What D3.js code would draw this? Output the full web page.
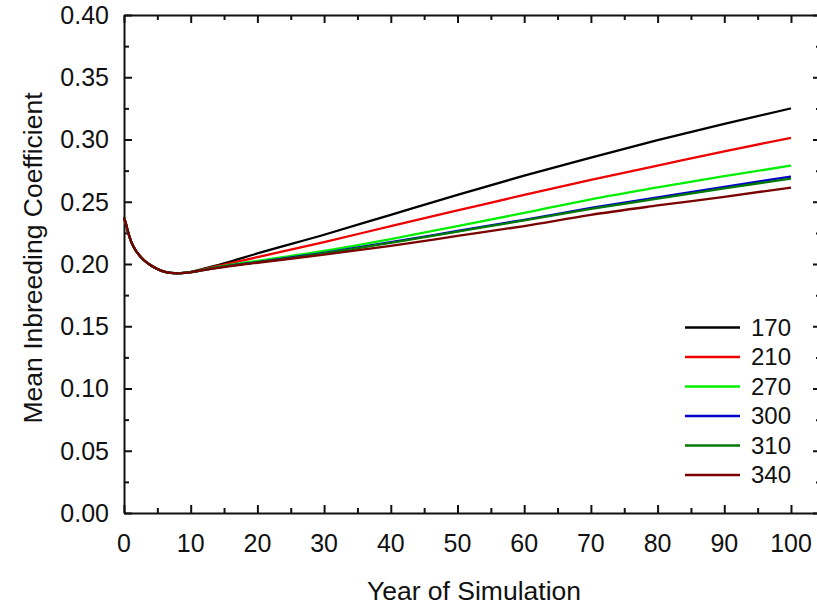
<!DOCTYPE html>
<html>
<head>
<meta charset="utf-8">
<script src="https://cdnjs.cloudflare.com/ajax/libs/d3/7.8.5/d3.min.js"></script>
<style>
  body { margin: 0; background: #fff; }
  svg { display: block; font-family: "Liberation Sans", Arial, sans-serif; }
</style>
</head>
<body>
<svg id="chart" width="817" height="609"></svg>
<script>
// Years sampled along the curves
var years = [0, 0.3, 0.65, 1, 1.65, 2, 3, 4, 5, 6, 7, 8, 9, 10, 12, 15, 20, 30, 40, 50, 60, 70, 80, 90, 100];

// Mean inbreeding coefficient per series
var f170 = [0.2375, 0.232, 0.225, 0.219, 0.2117, 0.209, 0.203, 0.199, 0.196, 0.1938, 0.1928, 0.1925, 0.1928, 0.1937, 0.1962,
            0.2005, 0.2085, 0.2235, 0.2395, 0.2555, 0.271, 0.2855, 0.2995, 0.3125, 0.3250];
var f210 = [0.2375, 0.232, 0.225, 0.219, 0.2117, 0.209, 0.203, 0.199, 0.196, 0.1938, 0.1928, 0.1925, 0.1928, 0.1935, 0.1958,
            0.1995, 0.2055, 0.2175, 0.2305, 0.243, 0.2555, 0.2675, 0.279, 0.2905, 0.3014];
var f270 = [0.2375, 0.232, 0.225, 0.219, 0.2117, 0.209, 0.203, 0.199, 0.196, 0.1938, 0.1928, 0.1925, 0.1928, 0.1934, 0.1955,
            0.1985, 0.2025, 0.2105, 0.220, 0.2305, 0.241, 0.252, 0.2615, 0.2705, 0.2790];
var f300 = [0.2375, 0.232, 0.225, 0.219, 0.2117, 0.209, 0.203, 0.199, 0.196, 0.1938, 0.1928, 0.1925, 0.1928, 0.1934, 0.1953,
            0.198, 0.2015, 0.209, 0.2175, 0.2265, 0.2355, 0.245, 0.2535, 0.262, 0.2702];
var f310 = [0.2375, 0.232, 0.225, 0.219, 0.2117, 0.209, 0.203, 0.199, 0.196, 0.1938, 0.1928, 0.1925, 0.1928, 0.1934, 0.1953,
            0.198, 0.2013, 0.2085, 0.217, 0.226, 0.235, 0.2442, 0.2525, 0.2608, 0.2686];
var f340 = [0.2375, 0.232, 0.225, 0.219, 0.2117, 0.209, 0.203, 0.199, 0.196, 0.1938, 0.1928, 0.1925, 0.1928, 0.1933, 0.1951,
            0.1975, 0.201, 0.2075, 0.2145, 0.2225, 0.2305, 0.2395, 0.247, 0.254, 0.2614];

var seriesNames = ['170', '210', '270', '300', '310', '340'];
var seriesColors = ['#000000', '#ee0000', '#00ee00', '#0000cc', '#007a00', '#7a0000'];
var seriesValues = [f170, f210, f270, f300, f310, f340];

// Tick values
var xTicks = [0, 10, 20, 30, 40, 50, 60, 70, 80, 90, 100];
var xMinor = [5, 15, 25, 35, 45, 55, 65, 75, 85, 95];
var yTicks = [0, 0.05, 0.10, 0.15, 0.20, 0.25, 0.30, 0.35, 0.40];
var yMinor = [0.025, 0.075, 0.125, 0.175, 0.225, 0.275, 0.325, 0.375];

var svg = d3.select('#chart');

// Plot frame: left edge at 124, top 15, bottom 513; right edge falls just off the page
var x = d3.scaleLinear().domain([0, 104.5]).range([124, 821]);
var y = d3.scaleLinear().domain([0, 0.40]).range([513, 15]);

var axisColor = '#111';

// Major and minor ticks, pointing inwards on all four sides
function addAxis(axisFn, scale, pos, majors, minors){
    var g = svg.append('g').attr('transform', pos);
    g.call(axisFn(scale).tickValues(majors).tickSize(8).tickSizeOuter(0).tickFormat(''));
    g.append('g').call(axisFn(scale).tickValues(minors).tickSize(5).tickSizeOuter(0).tickFormat(''))
        .select('.domain').remove();
    g.selectAll('line').attr('stroke', axisColor).attr('stroke-width', 2);
    g.selectAll('.domain').attr('stroke', axisColor).attr('stroke-width', 2);
    return g;
}

// Bottom axis (ticks point up)
addAxis(d3.axisTop, x, 'translate(0,513)', xTicks, xMinor);
// Top axis (ticks point down)
addAxis(d3.axisBottom, x, 'translate(0,15)', xTicks, xMinor);
// Left axis (ticks point right)
addAxis(d3.axisRight, y, 'translate(124,0)', yTicks, yMinor);
// Right axis (ticks point left)
addAxis(d3.axisLeft, y, 'translate(821,0)', yTicks, yMinor);

// Tick labels
svg.append('g').selectAll('text.xl')
    .data(xTicks).enter().append('text')
    .attr('x', function(d){ return x(d); })
    .attr('y', 552)
    .attr('text-anchor', 'middle')
    .attr('font-size', '25px')
    .attr('fill', '#111')
    .text(function(d){ return d; });

svg.append('g').selectAll('text.yl')
    .data(yTicks).enter().append('text')
    .attr('x', 109)
    .attr('y', function(d){ return y(d); })
    .attr('dy', '0.35em')
    .attr('text-anchor', 'end')
    .attr('font-size', '25px')
    .attr('fill', '#111')
    .text(function(d){ return d3.format('.2f')(d); });

// Axis titles
svg.append('text')
    .attr('x', 474)
    .attr('y', 600)
    .attr('text-anchor', 'middle')
    .attr('font-size', '26.5px')
    .attr('fill', '#111')
    .text('Year of Simulation');

svg.append('text')
    .attr('transform', 'translate(42,258) rotate(-90)')
    .attr('text-anchor', 'middle')
    .attr('font-size', '26.5px')
    .attr('fill', '#111')
    .text('Mean Inbreeding Coefficient');

// Curves
var line = d3.line()
    .x(function(d){ return x(d[0]); })
    .y(function(d){ return y(d[1]); })
    .curve(d3.curveMonotoneX);

seriesValues.forEach(function(vals, i){
    svg.append('path')
        .datum(years.map(function(yr, j){ return [yr, vals[j]]; }))
        .attr('fill', 'none')
        .attr('stroke', seriesColors[i])
        .attr('stroke-width', 2.3)
        .attr('stroke-linejoin', 'round')
        .attr('d', line);
});

// Legend
var legend = svg.append('g');
seriesNames.forEach(function(name, i){
    var ly = 327.5 + i * 29.5;
    legend.append('line')
        .attr('x1', 685).attr('x2', 740)
        .attr('y1', ly).attr('y2', ly)
        .attr('stroke', seriesColors[i])
        .attr('stroke-width', 2.5);
    legend.append('text')
        .attr('x', 751)
        .attr('y', ly)
        .attr('dy', '0.35em')
        .attr('font-size', '24px')
        .attr('fill', '#111')
        .text(name);
});
</script>
</body>
</html>
